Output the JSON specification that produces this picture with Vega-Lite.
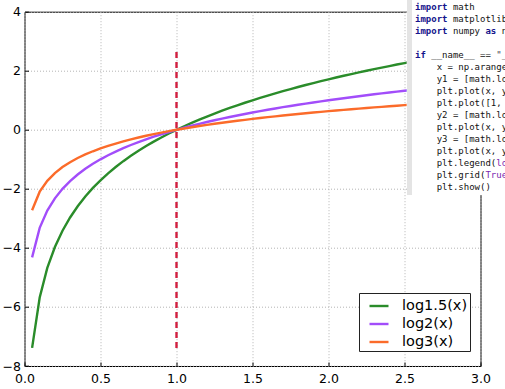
{
  "$schema": "https://vega.github.io/schema/vega-lite/v6.json",
  "width": 456,
  "height": 354.3,
  "autosize": {"type": "none"},
  "padding": {"left": 24.5, "top": 11.7, "right": 24.5, "bottom": 23},
  "background": "white",
  "config": {"view": {"stroke": "#000000", "strokeWidth": 1}, "font": "DejaVu Sans"},
  "datasets": {
    "logs": [
      {"x": 0.05, "g": -7.388, "p": -4.322, "o": -2.727},
      {"x": 0.10, "g": -5.679, "p": -3.322, "o": -2.096},
      {"x": 0.15, "g": -4.679, "p": -2.737, "o": -1.727},
      {"x": 0.20, "g": -3.969, "p": -2.322, "o": -1.465},
      {"x": 0.25, "g": -3.419, "p": -2.000, "o": -1.262},
      {"x": 0.30, "g": -2.969, "p": -1.737, "o": -1.096},
      {"x": 0.35, "g": -2.589, "p": -1.515, "o": -0.956},
      {"x": 0.40, "g": -2.260, "p": -1.322, "o": -0.834},
      {"x": 0.45, "g": -1.969, "p": -1.152, "o": -0.727},
      {"x": 0.50, "g": -1.710, "p": -1.000, "o": -0.631},
      {"x": 0.55, "g": -1.474, "p": -0.862, "o": -0.544},
      {"x": 0.60, "g": -1.260, "p": -0.737, "o": -0.465},
      {"x": 0.65, "g": -1.062, "p": -0.621, "o": -0.392},
      {"x": 0.70, "g": -0.880, "p": -0.515, "o": -0.325},
      {"x": 0.75, "g": -0.710, "p": -0.415, "o": -0.262},
      {"x": 0.80, "g": -0.550, "p": -0.322, "o": -0.203},
      {"x": 0.85, "g": -0.401, "p": -0.234, "o": -0.148},
      {"x": 0.90, "g": -0.260, "p": -0.152, "o": -0.096},
      {"x": 0.95, "g": -0.126, "p": -0.074, "o": -0.047},
      {"x": 1.00, "g": 0.000, "p": 0.000, "o": 0.000},
      {"x": 1.05, "g": 0.120, "p": 0.070, "o": 0.044},
      {"x": 1.10, "g": 0.235, "p": 0.138, "o": 0.087},
      {"x": 1.15, "g": 0.345, "p": 0.202, "o": 0.127},
      {"x": 1.20, "g": 0.450, "p": 0.263, "o": 0.166},
      {"x": 1.25, "g": 0.550, "p": 0.322, "o": 0.203},
      {"x": 1.30, "g": 0.647, "p": 0.379, "o": 0.239},
      {"x": 1.35, "g": 0.740, "p": 0.433, "o": 0.273},
      {"x": 1.40, "g": 0.830, "p": 0.485, "o": 0.306},
      {"x": 1.45, "g": 0.916, "p": 0.536, "o": 0.338},
      {"x": 1.50, "g": 1.000, "p": 0.585, "o": 0.369},
      {"x": 1.55, "g": 1.081, "p": 0.632, "o": 0.399},
      {"x": 1.60, "g": 1.159, "p": 0.678, "o": 0.428},
      {"x": 1.65, "g": 1.235, "p": 0.722, "o": 0.456},
      {"x": 1.70, "g": 1.309, "p": 0.766, "o": 0.483},
      {"x": 1.75, "g": 1.380, "p": 0.807, "o": 0.509},
      {"x": 1.80, "g": 1.450, "p": 0.848, "o": 0.535},
      {"x": 1.85, "g": 1.517, "p": 0.888, "o": 0.560},
      {"x": 1.90, "g": 1.583, "p": 0.926, "o": 0.584},
      {"x": 1.95, "g": 1.647, "p": 0.963, "o": 0.608},
      {"x": 2.00, "g": 1.710, "p": 1.000, "o": 0.631},
      {"x": 2.05, "g": 1.770, "p": 1.036, "o": 0.653},
      {"x": 2.10, "g": 1.830, "p": 1.070, "o": 0.675},
      {"x": 2.15, "g": 1.888, "p": 1.104, "o": 0.697},
      {"x": 2.20, "g": 1.945, "p": 1.138, "o": 0.718},
      {"x": 2.25, "g": 2.000, "p": 1.170, "o": 0.738},
      {"x": 2.30, "g": 2.054, "p": 1.202, "o": 0.758},
      {"x": 2.35, "g": 2.107, "p": 1.233, "o": 0.778},
      {"x": 2.40, "g": 2.159, "p": 1.263, "o": 0.797},
      {"x": 2.45, "g": 2.210, "p": 1.293, "o": 0.816},
      {"x": 2.50, "g": 2.260, "p": 1.322, "o": 0.834},
      {"x": 2.55, "g": 2.309, "p": 1.350, "o": 0.852},
      {"x": 2.60, "g": 2.357, "p": 1.379, "o": 0.870},
      {"x": 2.65, "g": 2.404, "p": 1.406, "o": 0.887},
      {"x": 2.70, "g": 2.450, "p": 1.433, "o": 0.904},
      {"x": 2.75, "g": 2.495, "p": 1.459, "o": 0.921},
      {"x": 2.80, "g": 2.539, "p": 1.485, "o": 0.937},
      {"x": 2.85, "g": 2.583, "p": 1.511, "o": 0.953},
      {"x": 2.90, "g": 2.626, "p": 1.536, "o": 0.969},
      {"x": 2.95, "g": 2.668, "p": 1.561, "o": 0.985}
    ],
    "vline": [{"x": 1, "ylo": -7.388, "yhi": 2.668}],
    "code": [
      {"line": 0, "col": 0, "t": "import", "k": "kw"},
      {"line": 0, "col": 7, "t": "math", "k": "n"},
      {"line": 1, "col": 0, "t": "import", "k": "kw"},
      {"line": 1, "col": 7, "t": "matplotlib.pyplot", "k": "n"},
      {"line": 1, "col": 25, "t": "as", "k": "kw"},
      {"line": 1, "col": 28, "t": "plt", "k": "n"},
      {"line": 2, "col": 0, "t": "import", "k": "kw"},
      {"line": 2, "col": 7, "t": "numpy", "k": "n"},
      {"line": 2, "col": 13, "t": "as", "k": "kw"},
      {"line": 2, "col": 16, "t": "np", "k": "n"},
      {"line": 4, "col": 0, "t": "if", "k": "kw"},
      {"line": 4, "col": 3, "t": "__name__ ==", "k": "n"},
      {"line": 4, "col": 15, "t": "\"__main__\":", "k": "s"},
      {"line": 5, "col": 4, "t": "x = np.arange(0.05, 3, 0.05)", "k": "n"},
      {"line": 6, "col": 4, "t": "y1 = [math.log(a, 1.5) for a in x]", "k": "n"},
      {"line": 7, "col": 4, "t": "plt.plot(x, y1, linewidth=2, label='log1.5(x)')", "k": "n"},
      {"line": 8, "col": 4, "t": "plt.plot([1, 1], [y1[0], y1[-1]], 'r--', linewidth=2)", "k": "n"},
      {"line": 9, "col": 4, "t": "y2 = [math.log(a, 2) for a in x]", "k": "n"},
      {"line": 10, "col": 4, "t": "plt.plot(x, y2, linewidth=2, label='log2(x)')", "k": "n"},
      {"line": 11, "col": 4, "t": "y3 = [math.log(a, 3) for a in x]", "k": "n"},
      {"line": 12, "col": 4, "t": "plt.plot(x, y3, linewidth=2, label='log3(x)')", "k": "n"},
      {"line": 13, "col": 4, "t": "plt.legend(", "k": "n"},
      {"line": 13, "col": 15, "t": "loc='lower right')", "k": "p"},
      {"line": 14, "col": 4, "t": "plt.grid(", "k": "n"},
      {"line": 14, "col": 13, "t": "True)", "k": "p"},
      {"line": 15, "col": 4, "t": "plt.show()", "k": "n"}
    ]
  },
  "layer": [
    {
      "data": {"name": "logs"},
      "layer": [
        {
          "transform": [{"fold": ["g", "p", "o"], "as": ["s", "v"]}],
          "mark": {"type": "line", "strokeWidth": 2.4, "clip": true},
          "encoding": {
            "x": {
              "field": "x", "type": "quantitative",
              "scale": {"domain": [0, 3], "nice": false, "zero": false},
              "axis": {
                "values": [0, 0.5, 1, 1.5, 2, 2.5, 3], "format": ".1f", "title": null,
                "grid": true, "gridDash": [1, 2], "gridColor": "#b4b4b4", "gridWidth": 1,
                "domain": false, "tickSize": -4, "tickColor": "#000000",
                "labelPadding": 10, "labelFontSize": 12.5, "labelColor": "#000000",
                "labelFont": "DejaVu Sans", "labelFlush": false, "labelOverlap": false
              }
            },
            "y": {
              "field": "v", "type": "quantitative",
              "scale": {"domain": [-8, 4], "nice": false, "zero": false},
              "axis": {
                "values": [-8, -6, -4, -2, 0, 2, 4], "format": "d", "title": null,
                "grid": true, "gridDash": [1, 2], "gridColor": "#b4b4b4", "gridWidth": 1,
                "domain": false, "tickSize": -4, "tickColor": "#000000",
                "labelPadding": 8, "labelFontSize": 12.5, "labelColor": "#000000",
                "labelFont": "DejaVu Sans", "labelOverlap": false
              }
            },
            "color": {
              "field": "s", "type": "nominal",
              "scale": {"domain": ["g", "p", "o"], "range": ["#2a8c2a", "#a24dfa", "#fb6b2a"]},
              "legend": {
                "orient": "none", "legendX": 334.5, "legendY": 281.3, "title": null,
                "symbolType": "stroke", "symbolStrokeWidth": 2.4, "symbolSize": 361,
                "symbolOffset": 7, "labelOffset": 12,
                "labelFontSize": 14.5, "labelFont": "DejaVu Sans", "labelColor": "#000000",
                "strokeColor": "#222222", "fillColor": "#ffffff", "padding": 2, "rowPadding": 0,
                "cornerRadius": 0,
                "labelExpr": "datum.value == 'g' ? 'log1.5(x)\u00a0\u00a0\u00a0' : datum.value == 'p' ? 'log2(x)' : 'log3(x)'"
              }
            }
          }
        },
        {
          "data": {"name": "vline"},
          "mark": {"type": "rule", "color": "#d11f3f", "strokeWidth": 2.4, "strokeDash": [6, 4]},
          "encoding": {
            "x": {"field": "x", "type": "quantitative"},
            "y": {"field": "ylo", "type": "quantitative"},
            "y2": {"field": "yhi"}
          }
        }
      ]
    },
    {
      "data": {"name": "code"},
      "layer": [
        {
          "mark": {"type": "rect", "fill": "#ffffff"},
          "encoding": {
            "x": {"datum": -1.477, "type": "quantitative", "scale": {"domain": [-72.07, 12.09], "nice": false, "zero": false}, "axis": null},
            "x2": {"datum": 25},
            "y": {"datum": -2, "type": "quantitative", "scale": {"domain": [0.392, 29.917], "reverse": true, "nice": false, "zero": false}, "axis": null},
            "y2": {"datum": 15.67}
          }
        },
        {
          "mark": {"type": "rect", "fill": "#e4e4e4"},
          "encoding": {
            "x": {"datum": -1.477, "type": "quantitative"},
            "x2": {"datum": -0.55},
            "y": {"datum": -2, "type": "quantitative"},
            "y2": {"datum": 15.67}
          }
        },
        {
          "transform": [{"filter": "datum.k == 'n'"}],
          "mark": {"type": "text", "align": "left", "baseline": "middle", "font": "DejaVu Sans Mono", "fontSize": 9, "color": "#111111"},
          "encoding": {
            "x": {"field": "col", "type": "quantitative"},
            "y": {"field": "line", "type": "quantitative"},
            "text": {"field": "t"}
          }
        },
        {
          "transform": [{"filter": "datum.k == 'kw'"}],
          "mark": {"type": "text", "align": "left", "baseline": "middle", "font": "DejaVu Sans Mono", "fontSize": 9, "fontWeight": "bold", "color": "#14148c"},
          "encoding": {
            "x": {"field": "col", "type": "quantitative"},
            "y": {"field": "line", "type": "quantitative"},
            "text": {"field": "t"}
          }
        },
        {
          "transform": [{"filter": "datum.k == 'p'"}],
          "mark": {"type": "text", "align": "left", "baseline": "middle", "font": "DejaVu Sans Mono", "fontSize": 9, "color": "#7a1fb0"},
          "encoding": {
            "x": {"field": "col", "type": "quantitative"},
            "y": {"field": "line", "type": "quantitative"},
            "text": {"field": "t"}
          }
        },
        {
          "transform": [{"filter": "datum.k == 's'"}],
          "mark": {"type": "text", "align": "left", "baseline": "middle", "font": "DejaVu Sans Mono", "fontSize": 9, "color": "#444444"},
          "encoding": {
            "x": {"field": "col", "type": "quantitative"},
            "y": {"field": "line", "type": "quantitative"},
            "text": {"field": "t"}
          }
        }
      ]
    }
  ],
  "resolve": {"scale": {"x": "independent", "y": "independent", "color": "independent"}}
}
